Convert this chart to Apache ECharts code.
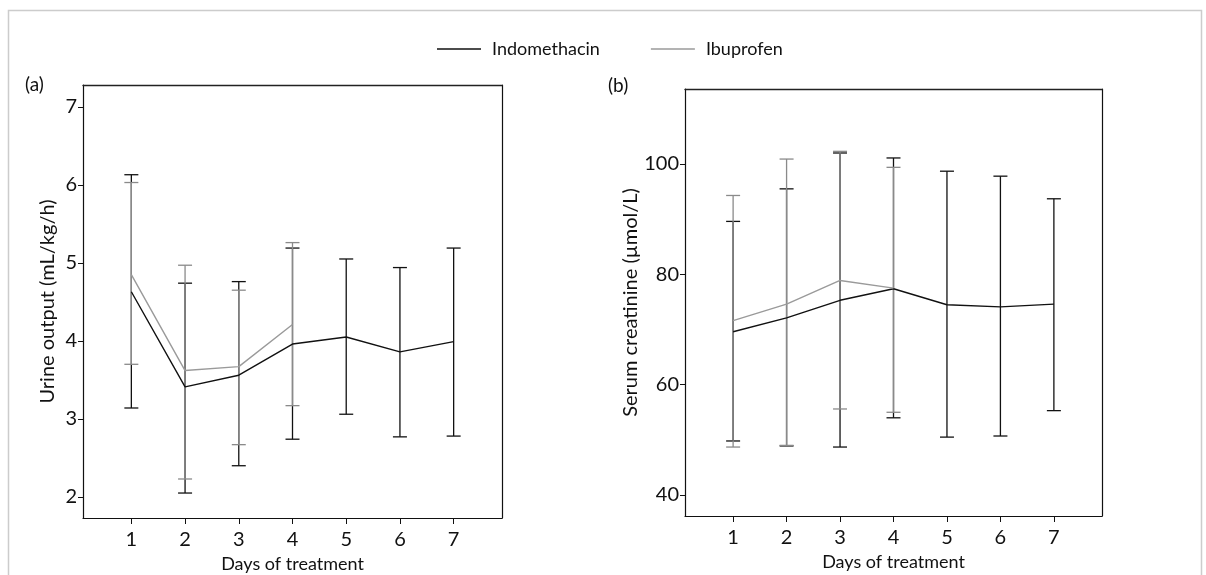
<!DOCTYPE html>
<html>
<head>
<meta charset="utf-8">
<title>Urine output and serum creatinine</title>
<script src="https://cdn.jsdelivr.net/npm/echarts@6/dist/echarts.min.js"></script>
<style>
  html, body { margin: 0; padding: 0; background: #fff; }
  #chart { width: 1206px; height: 575px; }
</style>
</head>
<body>
<div id="chart"></div>
<script type="text/javascript">
// days on x axis
const days = [1, 2, 3, 4, 5, 6, 7];
const ibuDays = [1, 2, 3, 4];

// tick labels
const xTicks = [1, 2, 3, 4, 5, 6, 7];
const urineTicks = [2, 3, 4, 5, 6, 7];
const creatTicks = [40, 60, 80, 100];

// (a) urine output, mL/kg/h
const indoUrineMean = [4.63, 3.41, 3.56, 3.96, 4.05, 3.86, 3.99];
const indoUrineLow = [3.14, 2.05, 2.40, 2.74, 3.06, 2.77, 2.78];
const indoUrineHigh = [6.13, 4.74, 4.76, 5.19, 5.05, 4.94, 5.19];
const ibuUrineMean = [4.85, 3.62, 3.67, 4.21];
const ibuUrineLow = [3.70, 2.23, 2.67, 3.17];
const ibuUrineHigh = [6.03, 4.97, 4.65, 5.26];

// (b) serum creatinine, umol/L
const indoCreatMean = [69.6, 72.1, 75.3, 77.4, 74.5, 74.1, 74.6];
const indoCreatLow = [49.8, 48.9, 48.7, 54.0, 50.5, 50.7, 55.3];
const indoCreatHigh = [89.6, 95.5, 102.0, 101.1, 98.7, 97.8, 93.7];
const ibuCreatMean = [71.6, 74.6, 78.9, 77.5];
const ibuCreatLow = [48.7, 49.0, 55.6, 55.0];
const ibuCreatHigh = [94.3, 100.9, 102.3, 99.4];

const FONT = "Lato";
const INDO_COLOR = "#111111";
const IBU_COLOR = "#9a9a9a";
const IBU_BAR_COLOR = "#8a8a8a";

function pairs(xs, ys) {
  return xs.map(function (x, i) { return [x, ys[i]]; });
}

function triples(xs, lo, hi) {
  return xs.map(function (x, i) { return [x, lo[i], hi[i]]; });
}

function errorBar(color) {
  return function (params, api) {
    const top = api.coord([api.value(0), api.value(2)]);
    const bottom = api.coord([api.value(0), api.value(1)]);
    const half = 7;
    const style = { stroke: color, lineWidth: 1.3, fill: null };
    return {
      type: "group",
      children: [
        { type: "line", shape: { x1: top[0], y1: top[1], x2: bottom[0], y2: bottom[1] }, style: style },
        { type: "line", shape: { x1: top[0] - half, y1: top[1], x2: top[0] + half, y2: top[1] }, style: style },
        { type: "line", shape: { x1: bottom[0] - half, y1: bottom[1], x2: bottom[0] + half, y2: bottom[1] }, style: style }
      ]
    };
  };
}

function xAxis(gridIndex) {
  return {
    type: "value",
    gridIndex: gridIndex,
    min: 0.1,
    max: 7.9,
    name: "Days of treatment",
    nameLocation: "middle",
    nameGap: 37,
    nameTextStyle: { fontFamily: FONT, fontSize: 18, color: "#111" },
    splitLine: { show: false },
    axisLine: { lineStyle: { color: "#111", width: 1.2 } },
    axisTick: { customValues: xTicks, length: 6, lineStyle: { color: "#111" } },
    axisLabel: { customValues: xTicks, margin: 12, fontFamily: FONT, fontSize: 20, color: "#111" }
  };
}

// frame edges (top and right) drawn as plain axis lines
function frameX(gridIndex) {
  return {
    type: "value", gridIndex: gridIndex, position: "top", min: 0.1, max: 7.9,
    axisLine: { show: true, lineStyle: { color: "#222", width: 1.4 } },
    axisTick: { show: false }, axisLabel: { show: false }, splitLine: { show: false }
  };
}

function frameY(gridIndex, min, max) {
  return {
    type: "value", gridIndex: gridIndex, position: "right", min: min, max: max,
    axisLine: { show: true, lineStyle: { color: "#111", width: 1.2 } },
    axisTick: { show: false }, axisLabel: { show: false }, splitLine: { show: false }
  };
}

function yAxis(gridIndex, min, max, ticks, name, gap) {
  return {
    type: "value",
    gridIndex: gridIndex,
    min: min,
    max: max,
    name: name,
    nameLocation: "middle",
    nameGap: gap,
    nameTextStyle: { fontFamily: FONT, fontSize: 20, color: "#111" },
    splitLine: { show: false },
    axisLine: { show: true, lineStyle: { color: "#111", width: 1.2 } },
    axisTick: { show: true, customValues: ticks, length: 5, lineStyle: { color: "#111" } },
    axisLabel: { customValues: ticks, margin: 6, fontFamily: FONT, fontSize: 20, color: "#111" }
  };
}

function meanLine(name, idx, data, color) {
  return {
    name: name,
    type: "line",
    xAxisIndex: idx,
    yAxisIndex: idx,
    data: data,
    symbol: "none",
    z: 5,
    lineStyle: { color: color, width: 1.4 },
    itemStyle: { color: color }
  };
}

function bars(idx, data, color) {
  return {
    type: "custom",
    xAxisIndex: idx,
    yAxisIndex: idx,
    data: data,
    renderItem: errorBar(color),
    encode: { x: 0, y: [1, 2] },
    silent: true
  };
}

const chart = echarts.init(document.getElementById("chart"), null, { renderer: "canvas" });

chart.setOption({
  animation: false,
  backgroundColor: "#fff",
  textStyle: { fontFamily: FONT },
  legend: {
    top: 35,
    left: 432,
    itemWidth: 44,
    itemHeight: 14,
    itemGap: 51,
    data: [
      { name: "Indomethacin", icon: "path://M0,7L44,7L44,8.4L0,8.4Z" },
      { name: "Ibuprofen", icon: "path://M0,7L44,7L44,8.4L0,8.4Z" }
    ],
    textStyle: { fontFamily: FONT, fontSize: 18, color: "#111", padding: [0, 0, 0, 6] }
  },
  graphic: [
    {
      type: "rect",
      shape: { x: 8.5, y: 10.5, width: 1193, height: 620 },
      style: { fill: null, stroke: "#cccccc", lineWidth: 1.5 },
      silent: true
    },
    { type: "text", left: 25, top: 75, style: { text: "(a)", fontFamily: FONT, fontSize: 19, fill: "#111" } },
    { type: "text", left: 608, top: 76, style: { text: "(b)", fontFamily: FONT, fontSize: 19, fill: "#111" } }
  ],
  grid: [
    { left: 83, right: 704, top: 85, bottom: 57, outerBoundsMode: "none" },
    { left: 685, right: 104, top: 89, bottom: 59, outerBoundsMode: "none" }
  ],
  xAxis: [xAxis(0), xAxis(1), frameX(0), frameX(1)],
  yAxis: [
    yAxis(0, 1.73, 7.28, urineTicks, "Urine output (mL/kg/h)", 25),
    yAxis(1, 36.2, 113.6, creatTicks, "Serum creatinine (\u00b5mol/L)", 37),
    frameY(0, 1.73, 7.28),
    frameY(1, 36.2, 113.6)
  ],
  series: [
    bars(0, triples(days, indoUrineLow, indoUrineHigh), INDO_COLOR),
    bars(0, triples(ibuDays, ibuUrineLow, ibuUrineHigh), IBU_BAR_COLOR),
    meanLine("Indomethacin", 0, pairs(days, indoUrineMean), INDO_COLOR),
    meanLine("Ibuprofen", 0, pairs(ibuDays, ibuUrineMean), IBU_COLOR),

    bars(1, triples(days, indoCreatLow, indoCreatHigh), INDO_COLOR),
    bars(1, triples(ibuDays, ibuCreatLow, ibuCreatHigh), IBU_BAR_COLOR),
    meanLine("Indomethacin", 1, pairs(days, indoCreatMean), INDO_COLOR),
    meanLine("Ibuprofen", 1, pairs(ibuDays, ibuCreatMean), IBU_COLOR)
  ]
});
</script>
</body>
</html>
